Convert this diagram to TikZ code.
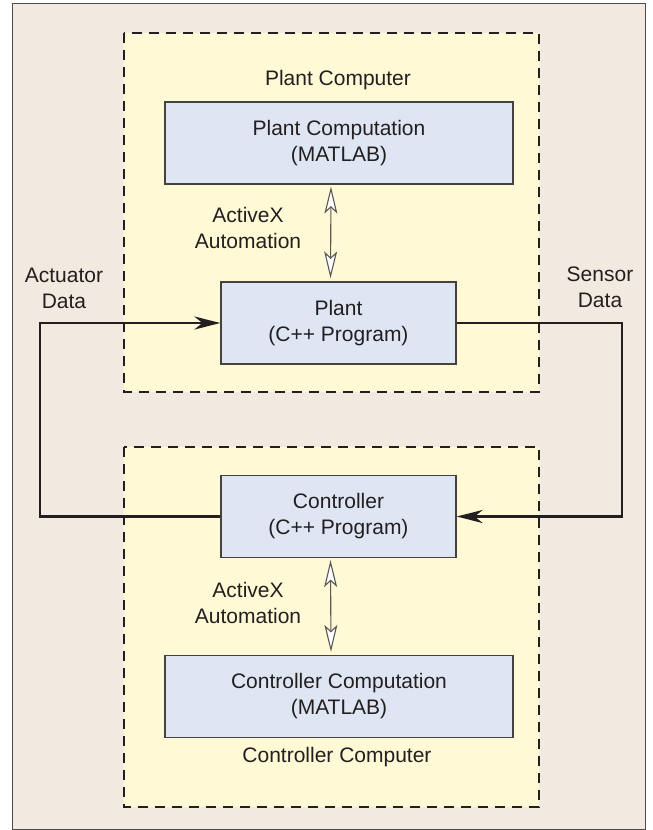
\documentclass[tikz,border=0pt]{standalone}
\usepackage{fontspec}
\setmainfont{Liberation Sans}
\usetikzlibrary{arrows.meta,positioning}
\definecolor{framebg}{HTML}{F2EAE0}
\definecolor{computerbg}{HTML}{FFF9D6}
\definecolor{programbg}{HTML}{DFE6F3}
\definecolor{inkgray}{HTML}{231F20}
\begin{document}
\begin{tikzpicture}[x=1pt,y=-1pt,
    every node/.style={font=\fontsize{21}{26}\selectfont, text=inkgray, align=center},
    computer/.style={draw=inkgray, fill=computerbg, line width=1.1pt, dash pattern=on 10pt off 7pt},
    program/.style={draw=inkgray!85, fill=programbg, line width=1.2pt, minimum height=82pt, inner sep=0pt},
    automation/.style={draw=inkgray!75, line width=1.1pt, {Stealth[length=27pt,width=13pt,inset=6pt,fill=white]}-{Stealth[length=27pt,width=13pt,inset=6pt,fill=white]}, shorten <=2pt, shorten >=3pt},
    signal/.style={draw=inkgray, line width=2.7pt, -{Stealth[length=26pt,width=13pt,inset=8pt]}}]
    \useasboundingbox (0,0) rectangle (653,830);

    % Draw frame and computers
    \draw[fill=framebg, draw=inkgray!80, line width=0.9pt] (12,3) rectangle (645,829);
    \draw[computer] (124,33) rectangle (539,392);
    \draw[computer] (124,447) rectangle (539,807);

    % Program boxes
    \node[program, minimum width=348pt] (plantcomp) at (339,143) {Plant Computation\\(MATLAB)};
    \node[program, minimum width=235pt] (plant) at (338.5,323) {Plant\\(C++ Program)};
    \node[program, minimum width=235pt] (ctrl) at (338.5,516.5) {Controller\\(C++ Program)};
    \node[program, minimum width=348pt] (ctrlcomp) at (339,696.5) {Controller Computation\\(MATLAB)};

    % Labels
    \node (plantpc) at (338,80) {Plant Computer};
    \node (ctrlpc) at (337,757) {Controller Computer};
    \node (plantax) at (248,228) {ActiveX\\Automation};
    \node (ctrlax) at (248,603) {ActiveX\\Automation};
    \node (actdata) at (64,288) {Actuator\\Data};
    \node (sensdata) at (600,287) {Sensor\\Data};

    % ActiveX links
    \draw[automation] ([xshift=-8pt]plantcomp.south) -- ([xshift=-8pt]plant.north);
    \draw[automation] ([xshift=-8pt]ctrl.south) -- ([xshift=-8pt]ctrlcomp.north);

    % Data loop
    \coordinate (leftrail) at (40,0);
    \coordinate (rightrail) at (622,0);
    \draw[signal] (ctrl.west) -- (ctrl.west -| leftrail) -- (plant.west -| leftrail) -- (plant.west);
    \draw[signal] (plant.east) -- (plant.east -| rightrail) -- (ctrl.east -| rightrail) -- (ctrl.east);
\end{tikzpicture}
\end{document}
